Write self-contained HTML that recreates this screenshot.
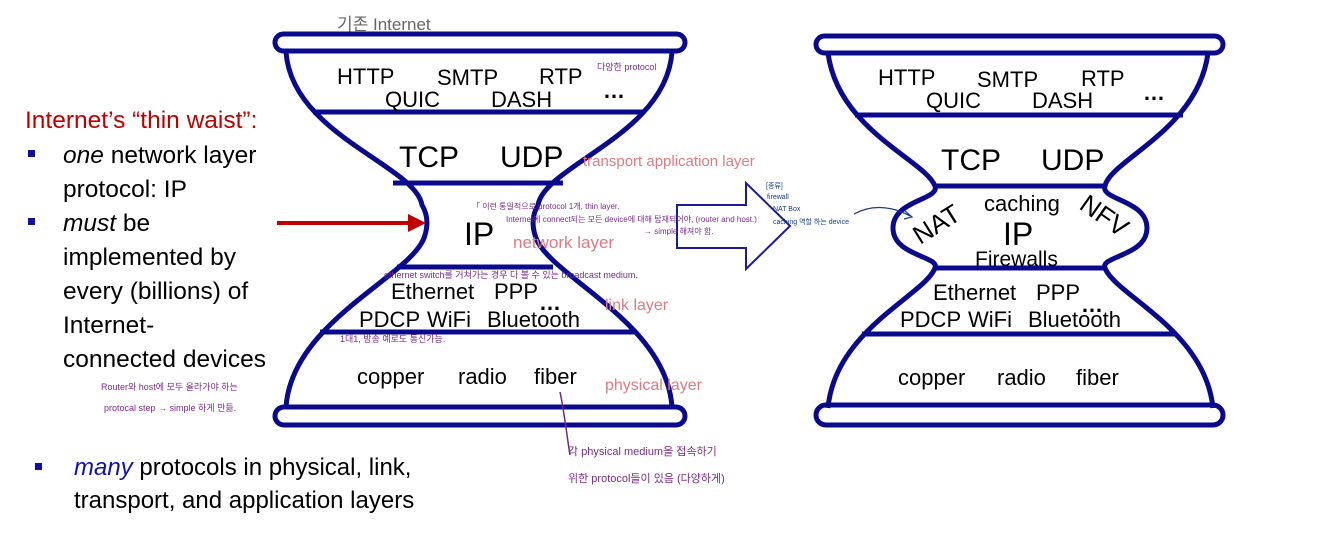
<!DOCTYPE html>
<html><head><meta charset="utf-8"><style>
html,body{margin:0;padding:0;background:#fff;}
svg{display:block;}
.t{font-family:"Liberation Sans","Noto Sans CJK KR",sans-serif;fill:#000;}
.h{font-family:"Liberation Sans","Noto Sans CJK KR",sans-serif;}
</style></head><body>
<svg width="1327" height="539" viewBox="0 0 1327 539" xmlns="http://www.w3.org/2000/svg">
<g fill="none" stroke="#0a0a8c" stroke-width="5" stroke-linejoin="round">
<rect x="275" y="34" width="410" height="17" rx="8.5" fill="#fff"/>
<rect x="275" y="407" width="410" height="18" rx="9" fill="#fff"/>
<path d="M286,52 C292,135 415,165 422,205 C428,215 428,225 425,235 C415,275 292,320 286,407"/>
<path d="M672,52 C666,135 545,165 538,205 C532,215 532,225 535,235 C545,275 666,320 672,407"/>
<line x1="313" y1="112" x2="643" y2="112"/>
<line x1="393" y1="183" x2="563" y2="183"/>
<line x1="397" y1="267" x2="553" y2="267"/>
<line x1="320" y1="332" x2="637" y2="332"/>
<rect x="816" y="36" width="407" height="17" rx="8.5" fill="#fff"/>
<rect x="816" y="405" width="407" height="20" rx="10" fill="#fff"/>
<path d="M828,53 C838,130 925,160 935,186 C940,200 893,200 893,228 C893,256 940,256 935,268 C925,295 835,330 828,408"/>
<path d="M1208,53 C1198,130 1110,160 1105,186 C1100,200 1147,200 1147,228 C1147,256 1100,256 1105,268 C1115,295 1205,330 1213,408"/>
<line x1="855" y1="115" x2="1183" y2="115"/>
<line x1="935" y1="186" x2="1105" y2="186"/>
<line x1="935" y1="268" x2="1105" y2="268"/>
<line x1="862" y1="334" x2="1177" y2="334"/>
</g>
<path d="M677,205 L746,205 L746,183 L790,226 L746,269 L746,248 L677,248 Z" fill="#fff" stroke="#1a1a9a" stroke-width="2"/>
<line x1="277" y1="223" x2="412" y2="223" stroke="#c00000" stroke-width="4"/>
<path d="M408,214 L426,223 L408,232 Z" fill="#c00000"/>
<g class="t" font-size="22">
<text x="337" y="84">HTTP</text><text x="437" y="85">SMTP</text><text x="539" y="84">RTP</text>
<text x="385" y="107">QUIC</text><text x="491" y="107">DASH</text>
<text x="603" y="98" font-weight="bold">…</text>
<text x="399" y="167" font-size="30">TCP</text><text x="500" y="167" font-size="30">UDP</text>
<text x="464" y="245" font-size="32">IP</text>
<text x="391" y="299">Ethernet</text><text x="494" y="299">PPP</text>
<text x="539" y="310" font-weight="bold">…</text>
<text x="359" y="327">PDCP</text><text x="427" y="327">WiFi</text><text x="487" y="327">Bluetooth</text>
<text x="357" y="384">copper</text><text x="458" y="384">radio</text><text x="534" y="384">fiber</text>
</g>
<g class="t" font-size="22">
<text x="878" y="85">HTTP</text><text x="977" y="87">SMTP</text><text x="1081" y="86">RTP</text>
<text x="926" y="108">QUIC</text><text x="1032" y="108">DASH</text>
<text x="1143" y="100" font-weight="bold">…</text>
<text x="941" y="170" font-size="30">TCP</text><text x="1041" y="170" font-size="30">UDP</text>
<text x="984" y="211" font-size="22">caching</text>
<text x="1003" y="245" font-size="32">IP</text>
<text x="975" y="266" font-size="21">Firewalls</text>
<text x="0" y="0" font-size="26" transform="translate(920,245) rotate(-32)">NAT</text>
<text x="0" y="0" font-size="26" transform="translate(1078,208) rotate(35)">NFV</text>
<text x="933" y="300">Ethernet</text><text x="1036" y="300">PPP</text>
<text x="1081" y="312" font-weight="bold">…</text>
<text x="900" y="327">PDCP</text><text x="968" y="327">WiFi</text><text x="1028" y="327">Bluetooth</text>
<text x="898" y="385">copper</text><text x="997" y="385">radio</text><text x="1076" y="385">fiber</text>
</g>
<g class="t" font-size="24.5">
<text x="25" y="128" style="fill:#c00000">Internet’s “thin waist”:</text>
<text x="63" y="163"><tspan font-style="italic">one</tspan> network layer</text>
<text x="63" y="197">protocol: IP</text>
<text x="63" y="231"><tspan font-style="italic">must</tspan> be</text>
<text x="63" y="265">implemented by</text>
<text x="63" y="299">every (billions) of</text>
<text x="63" y="333">Internet-</text>
<text x="63" y="367">connected devices</text>
<text x="74" y="475" font-size="24"><tspan font-style="italic" style="fill:#1010b0">many</tspan> protocols in physical, link,</text>
<text x="74" y="508" font-size="24">transport, and application layers</text>
</g>
<rect x="28" y="150" width="7" height="7" fill="#1010a0"/>
<rect x="28" y="218" width="7" height="7" fill="#1010a0"/>
<rect x="35" y="463" width="7" height="7" fill="#1010a0"/>
<g class="h">
<text x="337" y="30" font-size="17" fill="#666">기존 Internet</text>
<text x="597" y="70" font-size="9" fill="#7a2a8a">다양한 protocol</text>
<text x="583" y="166" font-size="15" fill="#e07a80">transport application layer</text>
<text x="513" y="248" font-size="17" fill="#e07a80">network layer</text>
<text x="605" y="310" font-size="16" fill="#e07a80">link layer</text>
<text x="605" y="390" font-size="16" fill="#e07a80">physical layer</text>
<text x="472" y="209" font-size="8" fill="#7a2a8a">「 이런 통일적으로 protocol 1개, thin layer.</text>
<text x="506" y="222" font-size="8" fill="#7a2a8a">Internet에 connect되는 모든 device에 대해 탑재되어야, (router and host.)</text>
<text x="644" y="234" font-size="8" fill="#7a2a8a">→ simple 해져야 함.</text>
<text x="384" y="278" font-size="9" fill="#7a2a8a">ethernet switch를 거쳐가는 경우 다 볼 수 있는 broadcast medium.</text>
<text x="340" y="342" font-size="9" fill="#7a2a8a">1대1, 방송 예로도 통신가능.</text>
<text x="101" y="390" font-size="9" fill="#7a2a8a">Router와 host에 모두 올라가야 하는</text>
<text x="104" y="411" font-size="9" fill="#7a2a8a">protocal step → simple 하게 만듦.</text>
<text x="568" y="455" font-size="11" fill="#7a2a8a">각 physical medium을 접속하기</text>
<text x="568" y="482" font-size="11" fill="#7a2a8a">위한 protocol들이 있음 (다양하게)</text>
<text x="766" y="188" font-size="7" fill="#1a3a8a">[종류]</text>
<text x="767" y="199" font-size="7" fill="#1a3a8a">firewall</text>
<text x="773" y="211" font-size="7" fill="#1a3a8a">NAT Box</text>
<text x="773" y="224" font-size="7" fill="#1a3a8a">caching 역할 하는 device</text>
</g>
<path d="M560,392 C564,410 566,430 570,455" fill="none" stroke="#6a2a7a" stroke-width="1.5"/>
<path d="M854,214 C870,205 890,205 910,216" fill="none" stroke="#1a3a8a" stroke-width="1.2"/>
<path d="M905,211 L912,217 L904,219" fill="none" stroke="#1a3a8a" stroke-width="1.2"/>
</svg>
</body></html>
